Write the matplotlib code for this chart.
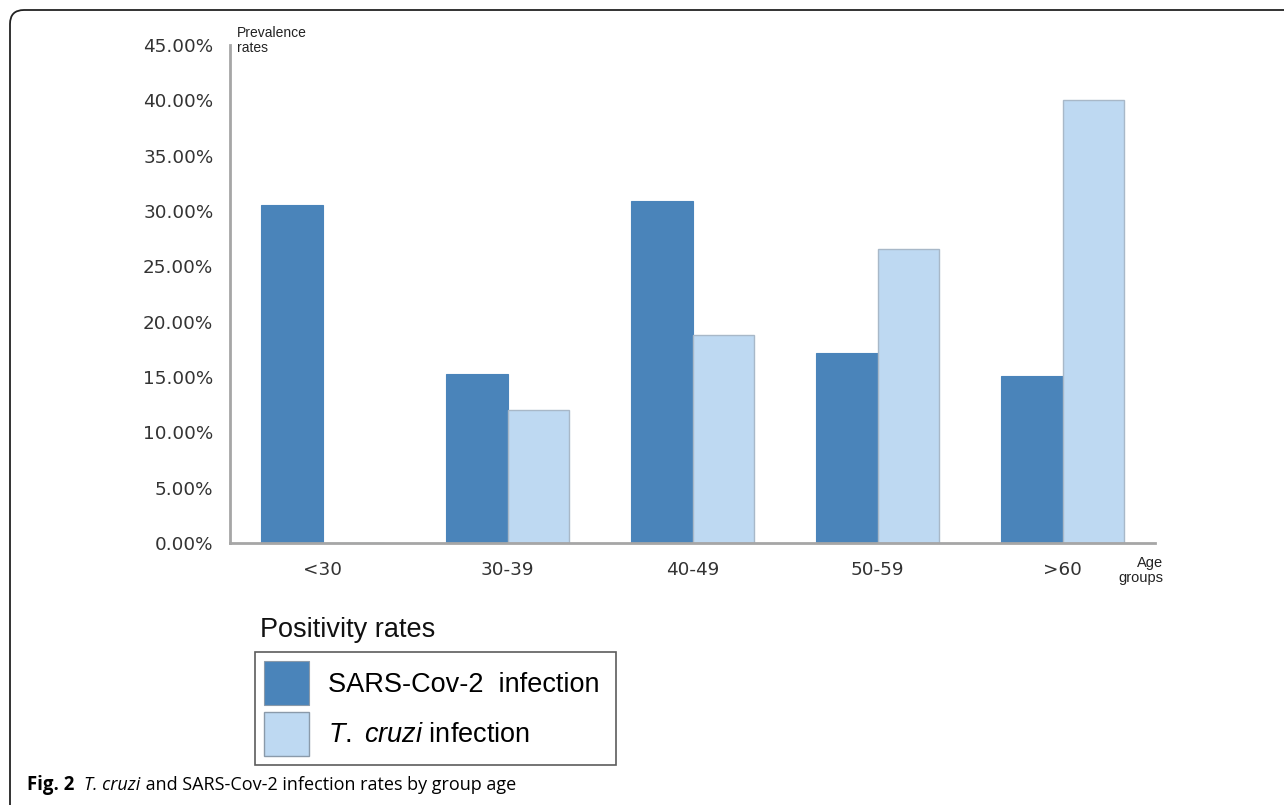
import numpy as np
import matplotlib
matplotlib.use("Agg")
import matplotlib.pyplot as plt
from matplotlib.patches import FancyBboxPatch

# data
groups = ["<30", "30-39", "40-49", "50-59", ">60"]
sars_cov2 = [30.5, 15.3, 30.9, 17.2, 15.1]
t_cruzi = [0.0, 12.0, 18.8, 26.6, 40.0]
yticks = [0, 5, 10, 15, 20, 25, 30, 35, 40, 45]

dark = "#4a84ba"
light = "#bed9f2"
axis_grey = "#a6a6a6"

plt.rcParams["mathtext.fontset"] = "custom"
plt.rcParams["mathtext.it"] = "Liberation Sans:italic"
plt.rcParams["mathtext.rm"] = "Liberation Sans"

fig = plt.figure(figsize=(12.84, 8.05), dpi=100)
ax = fig.add_axes([230 / 1284, 1 - 543 / 805, (1155 - 230) / 1284, (543 - 45) / 805])

x = np.arange(len(groups))
w = 0.335
b1 = ax.bar(x - w / 2, sars_cov2, w, color=dark, edgecolor=dark, linewidth=0.8,
            label="SARS-Cov-2  infection ")
b2 = ax.bar(x + w / 2, t_cruzi, w, color=light, edgecolor="#a8b8c8", linewidth=1.0,
            label=r"$\it{T.}$ $\it{cruzi}$ infection")

ax.set_xlim(-0.5, 4.5)
ax.set_ylim(0, 45)
ax.set_xticks(x)
ax.set_xticklabels(groups, family="DejaVu Sans", fontsize=13.2, color="#333333")
ax.set_yticks(yticks)
ax.set_yticklabels(["%.2f%%" % v for v in yticks], family="DejaVu Sans",
                   fontsize=13.2, color="#333333")
ax.tick_params(axis="both", length=0)
ax.tick_params(axis="y", pad=12)
ax.tick_params(axis="x", pad=13)
for s in ["top", "right"]:
    ax.spines[s].set_visible(False)
for s in ["left", "bottom"]:
    ax.spines[s].set_color(axis_grey)
    ax.spines[s].set_linewidth(2)

fig.text(237 / 1284, 1 - 26 / 805, "Prevalence\nrates", family="Liberation Sans",
         fontsize=10, va="top", ha="left", linespacing=1.05, color="#222222")
fig.text(1163 / 1284, 1 - 556 / 805, "Age\ngroups", family="Liberation Sans",
         fontsize=10.5, va="top", ha="right", linespacing=1.05, color="#222222")

# legend with title outside the box
fig.text(260 / 1284, 1 - 630 / 805, "Positivity rates", family="Liberation Sans",
         fontsize=19.5, va="center", ha="left", color="#111111")
leg = fig.legend(handles=[b1, b2], loc="upper left",
                 bbox_to_anchor=(255 / 1284, 1 - 652 / 805),
                 prop={"family": "Liberation Sans", "size": 19.5},
                 frameon=True, fancybox=False, edgecolor="#333333",
                 handlelength=1.66, handleheight=2.15, labelspacing=0.23,
                 borderpad=0.33, handletextpad=0.72, borderaxespad=0)
leg.get_frame().set_linewidth(1.2)
for h in leg.legend_handles:
    h.set_edgecolor("#8a9aaa")

# frame with rounded corner
frame = FancyBboxPatch((10, -200), 1500, 995, boxstyle="round,pad=0,rounding_size=14",
                       transform=None, facecolor="none", edgecolor="#222222", linewidth=1.3)
fig.patches.append(frame)

# caption, pieced together
renderer = fig.canvas.get_renderer()
cy = 1 - 785 / 805
t = fig.text(27 / 1284, cy, "Fig. 2", family="Open Sans", weight="bold", fontsize=13.4, va="center")
px = t.get_window_extent(renderer).x1 + 10
t = fig.text(px / 1284, cy, "T. cruzi", family="Open Sans", style="italic", fontsize=13, va="center")
px = t.get_window_extent(renderer).x1
fig.text(px / 1284, cy, " and SARS-Cov-2 infection rates by group age", family="Open Sans",
         fontsize=13, va="center")

fig.savefig("out.png", dpi=100)
